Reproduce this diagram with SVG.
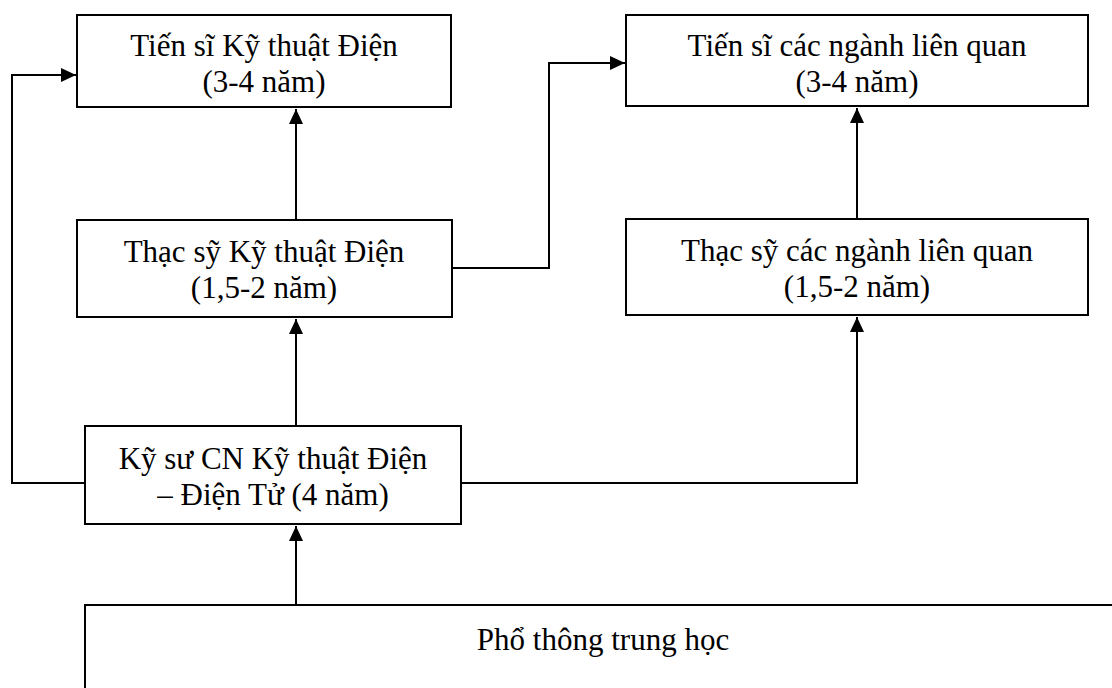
<svg xmlns="http://www.w3.org/2000/svg" width="1112" height="688" viewBox="0 0 1112 688">
<style>
.box{fill:#fff;stroke:#000;stroke-width:2}
.t{font-family:"Liberation Serif","Times New Roman",serif;font-size:31px;fill:#000;text-anchor:middle}
.c{fill:none;stroke:#000;stroke-width:2}
</style>
<defs>
<marker id="ah" markerUnits="userSpaceOnUse" markerWidth="16" markerHeight="14" refX="15" refY="7" orient="auto">
<path d="M0,0 L15,7 L0,14 Z" fill="#000"/>
</marker>
</defs>
<rect width="1112" height="688" fill="#fff"/>
<g id="connectors">
<path class="c" d="M296,220 V109" marker-end="url(#ah)"/>
<path class="c" d="M296,426 V319" marker-end="url(#ah)"/>
<path class="c" d="M296,605 V526" marker-end="url(#ah)"/>
<path class="c" d="M857,219 V108" marker-end="url(#ah)"/>
<path class="c" d="M461,483 H857 V317" marker-end="url(#ah)"/>
<path class="c" d="M85,483 H12 V75 H76" marker-end="url(#ah)"/>
<path class="c" d="M452,268 H549 V63 H625" marker-end="url(#ah)"/>
</g>
<g id="n1">
<rect class="box" x="77" y="15" width="374" height="92"/>
<text class="t" x="264" y="56">Tiến sĩ Kỹ thuật Điện</text>
<text class="t" x="264" y="92">(3-4 năm)</text>
</g>
<g id="n2">
<rect class="box" x="626" y="15" width="462" height="91"/>
<text class="t" x="857" y="56">Tiến sĩ các ngành liên quan</text>
<text class="t" x="857" y="92">(3-4 năm)</text>
</g>
<g id="n3">
<rect class="box" x="77" y="220" width="375" height="97"/>
<text class="t" x="264" y="262">Thạc sỹ Kỹ thuật Điện</text>
<text class="t" x="264" y="298">(1,5-2 năm)</text>
</g>
<g id="n4">
<rect class="box" x="626" y="219" width="462" height="96"/>
<text class="t" x="857" y="261">Thạc sỹ các ngành liên quan</text>
<text class="t" x="857" y="297">(1,5-2 năm)</text>
</g>
<g id="n5">
<rect class="box" x="85" y="426" width="376" height="98"/>
<text class="t" x="273" y="469">Kỹ sư CN Kỹ thuật Điện</text>
<text class="t" x="273" y="505">– Điện Tử (4 năm)</text>
</g>
<g id="n6">
<rect class="box" x="85" y="605" width="1060" height="120"/>
<text class="t" x="603" y="650">Phổ thông trung học</text>
</g>
</svg>
